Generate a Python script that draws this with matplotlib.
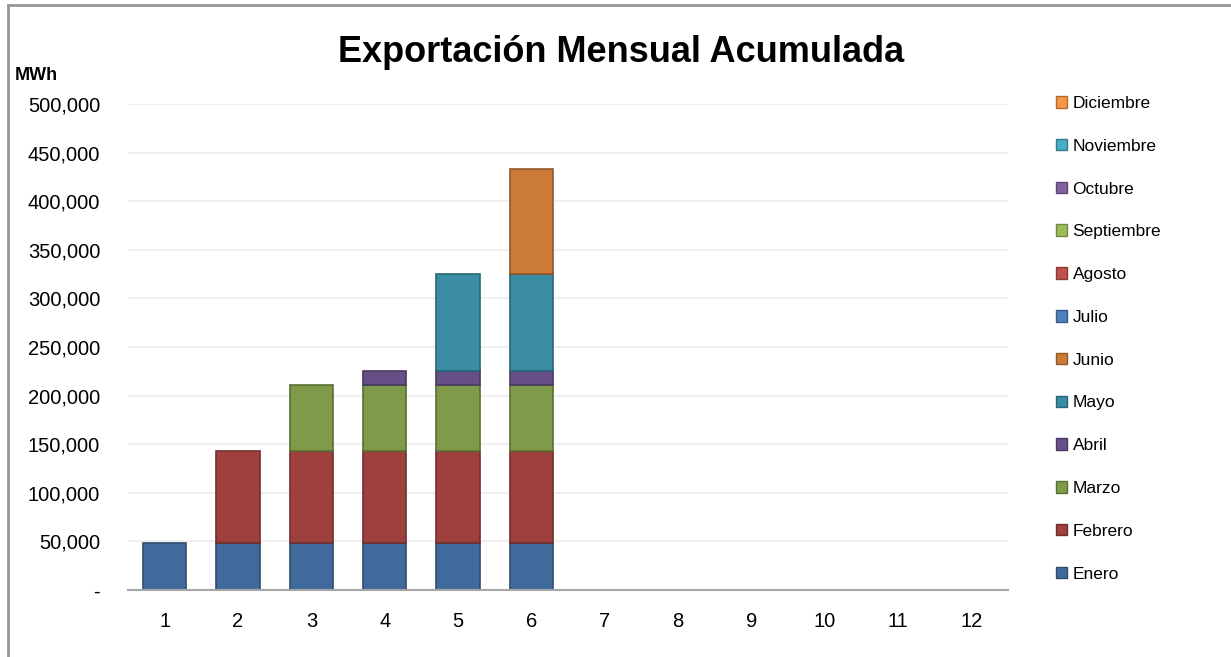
import matplotlib
matplotlib.use("Agg")
from matplotlib import pyplot as plt
from matplotlib.patches import Patch
from matplotlib.lines import Line2D
from matplotlib.ticker import FuncFormatter
import numpy as np

plt.rcParams['font.family'] = ['Liberation Sans', 'DejaVu Sans']

# datos mensuales (MWh), meses sin reporte = None
meses = ['Enero', 'Febrero', 'Marzo', 'Abril', 'Mayo', 'Junio',
         'Julio', 'Agosto', 'Septiembre', 'Octubre', 'Noviembre', 'Diciembre']
exportacion = [48500, 94700, 67600, 14700, 99500, 107700,
               None, None, None, None, None, None]
categorias = list(range(1, 13))
colores = ['#416A9C', '#9D403E', '#7F9A48', '#674F87', '#3A8DA5', '#CC7A37',
           '#4F81BD', '#C0504D', '#9BBB59', '#8064A2', '#4BACC6', '#F79646']


def oscurecer(c, f=0.72):
    r, g, b = matplotlib.colors.to_rgb(c)
    return (r * f, g * f, b * f)


W, H = 1231, 657
fig = plt.figure(figsize=(W / 100, H / 100), dpi=100)
ax = fig.add_axes([128 / W, 1 - 590 / H, 880 / W, 486 / H])

x = np.array(categorias)
base = np.zeros(len(categorias))
for j, (mes, v) in enumerate(zip(meses, exportacion)):
    alturas = np.zeros(len(categorias))
    for k, cat in enumerate(categorias):
        # acumulado: el mes j aparece en la categoria k si ya fue reportado
        if v is not None and j + 1 <= cat and exportacion[cat - 1] is not None:
            alturas[k] = v
    mask = alturas > 0
    if mask.any():
        ax.bar(x[mask], alturas[mask], bottom=base[mask], width=0.59,
               color=colores[j], edgecolor=oscurecer(colores[j]), linewidth=1.2,
               zorder=3)
    base += alturas

ax.set_xlim(0.5, 12.5)
ax.set_ylim(0, 500000)
ax.set_yticks(np.arange(0, 500001, 50000))
ax.yaxis.set_major_formatter(FuncFormatter(lambda v, p: '-' if v == 0 else f'{v:,.0f}'))
ax.set_xticks(categorias)
ax.tick_params(axis='y', length=0, pad=20, labelsize=14.5)
ax.tick_params(axis='x', length=0, pad=16, labelsize=14.5)
for s in ['top', 'right', 'left']:
    ax.spines[s].set_visible(False)
ax.spines['bottom'].set_color('#A6A6A6')
ax.spines['bottom'].set_linewidth(1.5)
ax.spines['bottom'].set_zorder(4)
ax.grid(axis='y', color='#EFEFEF', linewidth=1.5, zorder=0)
ax.set_axisbelow(True)

fig.text(621 / W, 1 - 52 / H, 'Exportación Mensual Acumulada', ha='center', va='center',
         fontsize=26, fontweight='bold')
fig.text(15 / W, 1 - 75 / H, 'MWh', ha='left', va='center', fontsize=13, fontweight='bold')

handles = [Patch(facecolor=colores[j], edgecolor=oscurecer(colores[j]), linewidth=1.0,
                 label=meses[j]) for j in range(12)][::-1]
fig.legend(handles=handles, loc='upper left', bbox_to_anchor=(1056 / W, 1 - 96 / H),
           frameon=False, fontsize=12.5, handlelength=0.65, handleheight=0.65,
           handletextpad=0.3, labelspacing=1.6, borderpad=0, borderaxespad=0)

# marco del grafico
fig.add_artist(Line2D([8 / W, 8 / W], [0, 1 - 5 / H], color='#969696', linewidth=2))
fig.add_artist(Line2D([8 / W, 1], [1 - 5 / H, 1 - 5 / H], color='#969696', linewidth=2))

fig.savefig('out.png', dpi=100)
